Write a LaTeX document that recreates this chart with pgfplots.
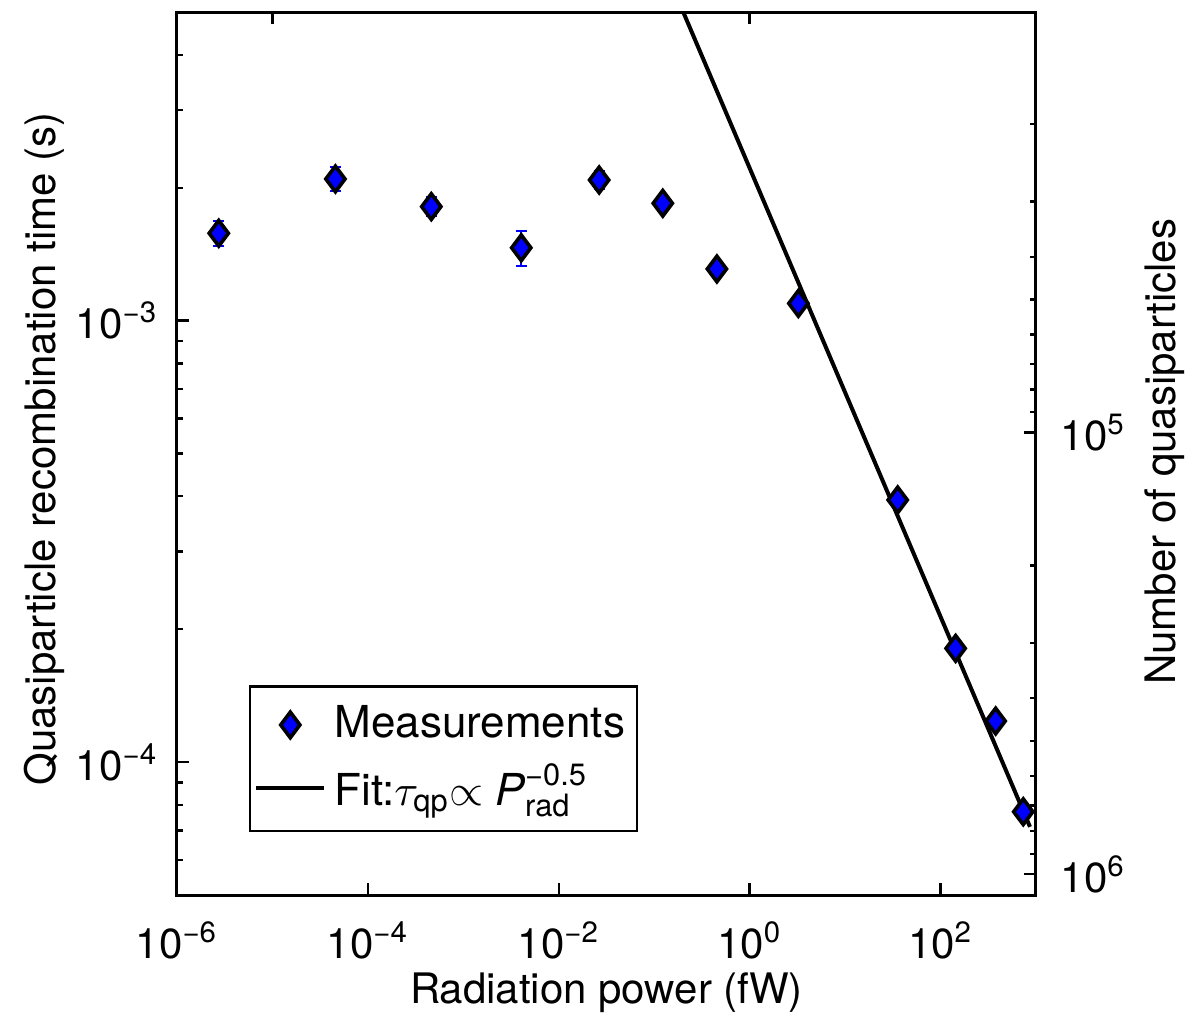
\documentclass[border=0pt]{standalone}
\usepackage{fontspec}
\setmainfont{TeX Gyre Heros}
\usepackage{amsmath}
\usepackage{pgfplots}
\pgfplotsset{compat=1.18}
\pgfplotstableread{
x y e
2.74e-6 1.577e-3 0.10e-3
4.57e-5 2.093e-3 0.13e-3
4.62e-4 1.812e-3 0.09e-3
4.05e-3 1.462e-3 0.13e-3
0.0265 2.082e-3 0.10e-3
0.123 1.844e-3 0.07e-3
0.454 1.309e-3 0.04e-3
3.24 1.094e-3 0.03e-3
35.6 3.925e-4 0.01e-3
144 1.810e-4 0.005e-3
378 1.239e-4 0.004e-3
736 7.72e-5 0.003e-3
}\meas
\begin{document}
\fontsize{10.5}{12.6}\selectfont
\begin{tikzpicture}
\useasboundingbox (-44.25pt,-29.5pt) rectangle (256.25pt,223.75pt);
\begin{axis}[
  at={(0,0)}, anchor=south west, scale only axis,
  width=214.75pt, height=220.75pt,
  xmode=log, ymode=log,
  xmin=1e-6, xmax=1e3, ymin=5e-5, ymax=5e-3,
  axis line style={line width=0.75pt},
  tick style={black, line width=0.6pt},
  tick align=inside,
  major tick length=3pt, minor tick length=1.6pt,
  xtick={1e-6,1e-4,1e-2,1,1e2},
  xticklabels={10\textsuperscript{−6},10\textsuperscript{−4},10\textsuperscript{−2},10\textsuperscript{0},10\textsuperscript{2}},
  xminorticks=false,
  xtick pos=left, ytick pos=left,
  ytick={1e-4,1e-3},
  yticklabels={10\textsuperscript{−4},10\textsuperscript{−3}},
  minor ytick={6e-5,7e-5,8e-5,9e-5,2e-4,3e-4,4e-4,5e-4,6e-4,7e-4,8e-4,9e-4,2e-3,3e-3,4e-3},
  xticklabel style={yshift=-3pt},
  yticklabel style={xshift=-1pt},
  every axis x label/.style={at={(axis description cs:0.5,-0.111)}, anchor=center},
  every axis y label/.style={at={(axis description cs:-0.154,0.505)}, anchor=center, rotate=90},
  xlabel={Radiation power (fW)},
  ylabel={Quasiparticle recombination time (s)},
  legend style={at={(rel axis cs:0.0838,0.0713)}, anchor=south west, draw=black, line width=0.6pt, inner xsep=1pt, inner ysep=2.8pt, row sep=1pt, font=\fontsize{11}{13}\selectfont},
  legend cell align=left,
]
\addplot[only marks, mark=none, forget plot, error bars/.cd, y dir=both, y explicit,
  error bar style={blue, line width=0.5pt}, error mark options={blue, mark size=1.4pt, rotate=90, line width=0.5pt}]
  table[x=x, y=y, y error=e] {\meas};
\addplot[only marks, mark=diamond*, mark size=3.2pt, mark options={fill=blue, draw=black, line width=0.9pt}]
  table[x=x, y=y] {\meas};
\addlegendentry{Measurements}
\addplot[black, line width=1pt] coordinates {(0.2014,5e-3) (865,7.135e-5)};
\addlegendentry{Fit:$\tau_{\text{qp}}{\propto}\;\textit{P}^{\text{−0.5}}_{\text{rad}}$}
\end{axis}
\begin{axis}[
  at={(0,0)}, anchor=south west, scale only axis,
  width=214.75pt, height=220.75pt,
  xmode=log, ymode=log,
  xmin=1e-6, xmax=1e3, ymin=11160, ymax=1116000, y dir=reverse,
  axis line style={line width=0.75pt},
  tick style={black, line width=0.6pt},
  tick align=inside,
  major tick length=3pt, minor tick length=1.6pt,
  xtick={1e-5,1}, xticklabels={,}, xminorticks=false,
  xtick pos=right,
  ytick={1e5,1e6},
  yticklabels={10\textsuperscript{5},10\textsuperscript{6}},
  minor ytick={2e4,3e4,4e4,5e4,6e4,7e4,8e4,9e4,2e5,3e5,4e5,5e5,6e5,7e5,8e5,9e5},
  ytick pos=right, yticklabel pos=right,
  yticklabel style={xshift=2.5pt},
  every axis y label/.style={at={(axis description cs:1.150,0.502)}, anchor=center, rotate=90},
  ylabel={Number of quasiparticles},
]
\addplot[draw=none, forget plot] coordinates {(1,1e5)};
\end{axis}
\end{tikzpicture}
\end{document}
